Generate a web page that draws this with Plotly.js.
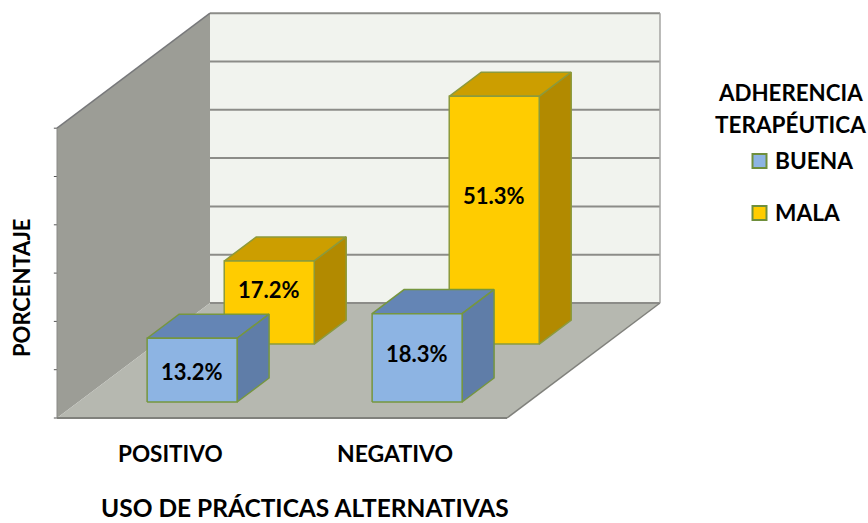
<!DOCTYPE html>
<html><head><meta charset="utf-8">
<script src="https://cdn.plot.ly/plotly-3.0.1.min.js"></script>
<style>html,body{margin:0;padding:0;background:#fff}#c{width:868px;height:523px}</style>
</head><body><div id="c"></div>
<script>
const categories = ['POSITIVO', 'NEGATIVO'];
const buena = [13.2, 18.3];
const mala = [17.2, 51.3];
const valueTicks = [0, 10, 20, 30, 40, 50, 60];
const seriesNames = ['BUENA', 'MALA'];
const legendTitle = ['ADHERENCIA', 'TERAPÉUTICA'];
const xTitle = 'USO DE PRÁCTICAS ALTERNATIVAS';
const yTitle = 'PORCENTAJE';

const W = 868, H = 523;
const pxPerCat = 225, pxPerVal = 4.83, x0Px = 57, y0Px = 418;
const depthDx = 153 / pxPerCat, depthDy = 115 / pxPerVal;
const P = (c, v, d) => [c + d * depthDx, v + d * depthDy];
const ASC = "Lato, Carlito, 'Noto Sans', sans-serif";

const traces = [];
function poly(points, fill, line, lw) {
  const pts = points.concat([points[0]]);
  traces.push({type: 'scatter', mode: 'lines', x: pts.map(p => p[0]), y: pts.map(p => p[1]),
    fill: 'toself', fillcolor: fill, line: {color: line, width: lw === undefined ? 1.5 : lw},
    hoverinfo: 'skip', showlegend: false});
}
function seg(a, b, color, w) {
  traces.push({type: 'scatter', mode: 'lines', x: [a[0], b[0]], y: [a[1], b[1]],
    line: {color, width: w}, hoverinfo: 'skip', showlegend: false});
}
const vMax = valueTicks[valueTicks.length - 1], nCat = categories.length;
// walls and floor
poly([P(0,0,1), P(nCat,0,1), P(nCat,vMax,1), P(0,vMax,1)], '#f1f3ee', '#f1f3ee', 0);
poly([P(0,0,0), P(0,0,1), P(0,vMax,1), P(0,vMax,0)], '#9c9d96', '#9c9d96', 0);
poly([P(0,0,0), P(nCat,0,0), P(nCat,0,1), P(0,0,1)], '#b6b8b0', '#b6b8b0', 0);
valueTicks.forEach(v => {
  seg(P(0,v,1), P(nCat,v,1), '#8c8c88', 2);
  seg(P(-0.014,v,0), P(0,v,0), '#555', 1);
});
seg(P(0,vMax,0), P(0,vMax,1), '#77787a', 1.5);
seg(P(0,0,0), P(0,vMax,0), '#8a8a86', 1);
seg(P(nCat,0,1), P(nCat,vMax,1), '#a5a5a2', 1.5);
seg(P(0,0,0), P(nCat,0,0), '#80817c', 2);
seg(P(nCat,0,0), P(nCat,0,1), '#80817c', 1.5);

const barStart = 0.306, barW = 0.4;
const depths = {buena: [0.139, 0.348], mala: [0.643, 0.852]};
function bar(i, v, dep, cols) {
  const a = i + barStart, b = a + barW, d0 = dep[0], d1 = dep[1];
  poly([P(a,v,d0), P(b,v,d0), P(b,v,d1), P(a,v,d1)], cols.top, cols.line);
  poly([P(b,0,d0), P(b,0,d1), P(b,v,d1), P(b,v,d0)], cols.side, cols.line);
  poly([P(a,0,d0), P(b,0,d0), P(b,v,d0), P(a,v,d0)], cols.front, cols.line);
}
const blueCols = {front: '#8db4e3', top: '#6485b5', side: '#5f7da8', line: '#76963f'};
const goldCols = {front: '#ffcc00', top: '#cc9e00', side: '#b28a00', line: '#8c9a3c'};
mala.forEach((v, i) => bar(i, v, depths.mala, goldCols));
buena.forEach((v, i) => bar(i, v, depths.buena, blueCols));

// data labels: anchored on each front face, the tall bar's sits above centre
function label(i, v, dep, fracUp) {
  const p = P(i + barStart + barW / 2, v * fracUp, dep[0]);
  return {x: p[0], y: p[1], text: v.toFixed(1) + '%', showarrow: false,
    font: {family: ASC, size: 22, color: '#000', weight: 700}, xanchor: 'center', yanchor: 'middle'};
}
const annotations = [
  label(0, buena[0], depths.buena, 0.48),
  label(1, buena[1], depths.buena, 0.55),
  label(0, mala[0], depths.mala, 0.66),
  label(1, mala[1], depths.mala, 0.60)
];
const textAt = (px, py, text, size, extra) => Object.assign({xref: 'paper', yref: 'paper',
  x: px / W, y: 1 - py / H, text, showarrow: false, xanchor: 'center', yanchor: 'middle',
  font: {family: ASC, size, color: '#000', weight: 700}}, extra || {});
annotations.push(textAt(170, 453, categories[0], 22.5));
annotations.push(textAt(394.5, 453, categories[1], 23));
annotations.push(textAt(305, 507, xTitle, 24.5));
annotations.push(textAt(21, 288, yTitle, 22, {textangle: -90}));
annotations.push(textAt(790.5, 92, legendTitle[0], 22.3));
annotations.push(textAt(790.5, 124, legendTitle[1], 22.5));
annotations.push(textAt(773, 161, seriesNames[0], 22.7, {xanchor: 'left'}));
annotations.push(textAt(773, 213, seriesNames[1], 22.7, {xanchor: 'left'}));

const swatch = (py, fill) => ({type: 'rect', xref: 'paper', yref: 'paper',
  x0: 752.5 / W, x1: 766.5 / W, y0: 1 - (py + 7) / H, y1: 1 - (py - 7) / H,
  fillcolor: fill, line: {color: '#6f8f3c', width: 2}});

const layout = {
  width: W, height: H, margin: {l: 0, r: 0, t: 0, b: 0}, showlegend: false,
  paper_bgcolor: '#fff', plot_bgcolor: '#fff',
  xaxis: {visible: false, range: [-x0Px / pxPerCat, (W - x0Px) / pxPerCat], fixedrange: true},
  yaxis: {visible: false, range: [-(H - y0Px) / pxPerVal, y0Px / pxPerVal], fixedrange: true},
  annotations,
  shapes: [swatch(161, blueCols.front), swatch(213, goldCols.front)]
};
Plotly.newPlot('c', traces, layout, {displayModeBar: false, staticPlot: true});
</script></body></html>
